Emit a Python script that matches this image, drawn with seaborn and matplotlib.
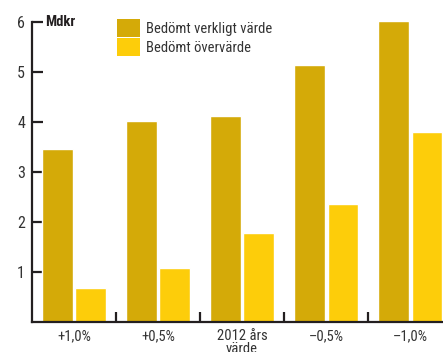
import matplotlib
matplotlib.use("Agg")
import matplotlib.pyplot as plt
import seaborn as sns
import pandas as pd
from matplotlib.patches import Patch
from matplotlib.ticker import FixedLocator

categories = ["+1,0%", "+0,5%", "2012 års\nvärde", "–0,5%", "–1,0%"]
verkligt = [3.46, 4.02, 4.12, 5.14, 6.02]
overvarde = [0.68, 1.08, 1.78, 2.36, 3.80]
series_names = ["Bedömt verkligt värde", "Bedömt övervärde"]
colors = ["#D4AA08", "#FDCD0A"]

df = pd.DataFrame({
    "cat": categories * 2,
    "val": verkligt + overvarde,
    "series": [series_names[0]] * 5 + [series_names[1]] * 5,
})

sns.set_style("white")
plt.rcParams["font.family"] = ["Roboto Condensed", "Liberation Sans Narrow",
                               "Arial Narrow", "Roboto", "DejaVu Sans"]

fig = plt.figure(figsize=(4.43, 3.52), dpi=100)
ax = fig.add_axes([32 / 443, 30 / 352, 411 / 443, 300 / 352])

sns.barplot(data=df, x="cat", y="val", hue="series", palette=colors,
            order=categories, hue_order=series_names, width=0.8, gap=0.08,
            ax=ax, legend=False, saturation=1)

ax.set_xlim(-0.5, 4.39)
ax.set_ylim(0, 6)
ax.set_xlabel("")
ax.set_ylabel("")

dark = "#231F20"
for s in ["top", "right"]:
    ax.spines[s].set_visible(False)
for s in ["left", "bottom"]:
    ax.spines[s].set_color(dark)
    ax.spines[s].set_linewidth(1.6)

ax.set_yticks([1, 2, 3, 4, 5, 6])
ax.set_yticklabels(["1", "2", "3", "4", "5", "6"])
ax.tick_params(axis="y", direction="in", length=8, width=1.6, color=dark,
               labelsize=11.5, labelcolor="#333333", pad=5, left=True)
ax.tick_params(axis="x", which="major", length=0, labelsize=10.5,
               labelcolor="#333333", pad=5)
ax.xaxis.set_minor_locator(FixedLocator([0.5, 1.5, 2.5, 3.5]))
ax.tick_params(axis="x", which="minor", direction="in", length=7, width=1.6,
               color=dark, bottom=True)
for lab in ax.get_xticklabels():
    lab.set_linespacing(0.95)

ax.text(-0.345, 6.0, "Mdkr", fontsize=10.5, fontweight="bold", color=dark,
        ha="left", va="center")

handles = [Patch(facecolor=c, edgecolor="none") for c in colors]
leg = ax.legend(handles, series_names, loc="upper left",
                bbox_to_anchor=((117 - 32) / 411, 1.01), frameon=False,
                fontsize=10.5, handlelength=1.6, handleheight=1.5,
                handletextpad=0.4, labelspacing=0.1, borderaxespad=0,
                borderpad=0)
for t in leg.get_texts():
    t.set_color("#333333")

fig.savefig("out.png", dpi=100)
